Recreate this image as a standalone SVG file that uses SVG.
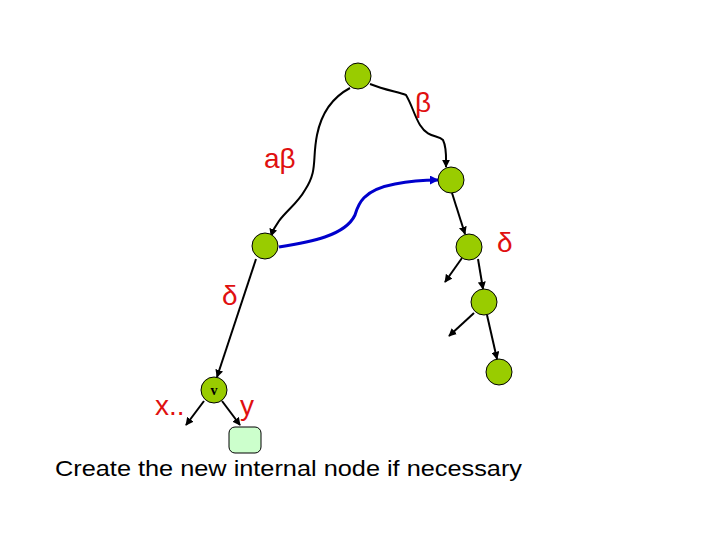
<svg xmlns="http://www.w3.org/2000/svg" width="720" height="540" viewBox="0 0 720 540">
<defs>
<marker id="ah" viewBox="0 0 10 10" refX="9" refY="5" markerWidth="8" markerHeight="8" orient="auto" markerUnits="userSpaceOnUse"><path d="M0,0 L10,5 L0,10 z" fill="#000"/></marker>
<marker id="ahb" viewBox="0 0 10 10" refX="9" refY="5" markerWidth="9" markerHeight="9" orient="auto" markerUnits="userSpaceOnUse"><path d="M0,0 L10,5 L0,10 z" fill="#0000cc"/></marker>
<style>
.n{fill:#99cc00;stroke:#000;stroke-width:1}
.e{fill:none;stroke:#000;stroke-width:2;marker-end:url(#ah)}
.lbl{fill:#e01010;font-family:"Liberation Sans",Arial,sans-serif;font-size:28px}
</style>
</defs>
<rect width="720" height="540" fill="#fff"/>
<g id="connectors">
<path class="e" d="M350,88 C335,96 322,110 317,135 C312,160 318,170 305,190 C295,208 278,215 271,236"/>
<path class="e" d="M370,84 C385,90 398,92 406,95 C412,105 414,115 420,125 C428,138 438,135 443,140 C447,148 446,158 446,167"/>
<path d="M279,247 C310,242 345,236 355,215 C358,205 362,190 395,184 C410,181 425,180 438,180" fill="none" stroke="#0000cc" stroke-width="3" marker-end="url(#ahb)"/>
<path class="e" d="M452,193 L465,234"/>
<path class="e" d="M462,258 L445,282"/>
<path class="e" d="M478,259 L483,289"/>
<path class="e" d="M474,313 L449,336"/>
<path class="e" d="M487,315 L497,359"/>
<path class="e" d="M256,259 L217,377"/>
<path class="e" d="M204,401 L186,425"/>
<path class="e" d="M222,401 L240,425"/>
</g>
<g id="n_top"><circle class="n" cx="358" cy="76" r="13"/></g>
<g id="n_r1"><circle class="n" cx="451" cy="180" r="13"/></g>
<g id="n_left"><circle class="n" cx="265" cy="246" r="13"/></g>
<g id="n_r2"><circle class="n" cx="469" cy="247" r="13"/></g>
<g id="n_r3"><circle class="n" cx="484" cy="302" r="13"/></g>
<g id="n_r4"><circle class="n" cx="499" cy="372" r="13"/></g>
<g id="n_v"><circle class="n" cx="214" cy="390" r="13"/><text x="214" y="395" text-anchor="middle" font-family="Liberation Serif,serif" font-size="14" font-weight="bold" fill="#000">v</text></g>
<g id="n_leaf"><rect x="229" y="427" width="32" height="26" rx="6" fill="#ccffcc" stroke="#000" stroke-width="1"/></g>
<g id="labels">
<text class="lbl" x="415" y="112">β</text>
<text class="lbl" x="264" y="168">aβ</text>
<text class="lbl" x="497" y="252">δ</text>
<text class="lbl" x="222" y="305">δ</text>
<text class="lbl" x="155" y="415">x..</text>
<text class="lbl" x="240" y="415">y</text>
<text x="55" y="476" font-family="'Comic Sans MS','Liberation Sans',sans-serif" font-size="22" textLength="467" lengthAdjust="spacingAndGlyphs" fill="#000">Create the new internal node if necessary</text>
</g>
</svg>
